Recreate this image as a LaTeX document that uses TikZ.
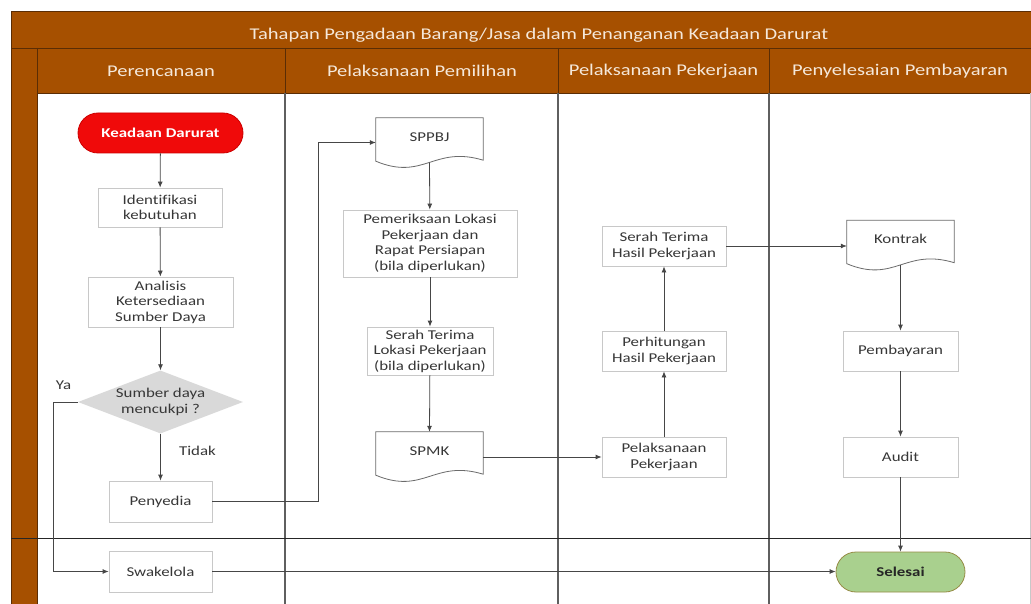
\documentclass[tikz,border=0pt]{standalone}
\usepackage{fontspec}
\setmainfont[FakeStretch=1.25,Ligatures=NoCommon]{Carlito}
\usetikzlibrary{arrows.meta,calc,shapes.geometric}
\definecolor{brownband}{RGB}{166,80,0}
\definecolor{darkbrown}{RGB}{90,45,5}
\definecolor{headtxt}{RGB}{245,232,218}
\definecolor{boxgray}{RGB}{200,200,200}
\definecolor{txt}{RGB}{55,55,55}
\definecolor{linegray}{RGB}{70,70,70}
\definecolor{lanegray}{RGB}{95,95,95}
\definecolor{diagray}{RGB}{217,217,217}
\definecolor{redterm}{RGB}{240,10,10}
\definecolor{greenterm}{RGB}{169,208,142}
\definecolor{greenborder}{RGB}{150,140,70}
\newcommand\bodyfnt{\fontsize{13.5}{15.5}\selectfont}
\newcommand\headfnt{\fontsize{16.4}{19}\selectfont}
\begin{document}
\begin{tikzpicture}[x=1pt,y=-1pt,
  proc/.style={draw=boxgray, line width=0.8pt, fill=white, align=center, text=txt, font=\bodyfnt, inner sep=0pt},
  docnode/.style={align=center, text=txt, font=\bodyfnt, inner sep=0pt, minimum width=107, minimum height=43},
  docline/.style={draw=linegray!80, line width=0.8pt, fill=white},
  term/.style={rounded corners=20pt, line width=0.8pt, align=center, font=\bodyfnt\bfseries, minimum height=40, inner sep=0pt},
  conn/.style={draw=linegray, line width=0.8pt, -{Latex[length=6pt,width=5pt]}},
  headtext/.style={text=headtxt, font=\headfnt, inner sep=0pt},
  lbl/.style={text=txt, font=\bodyfnt, inner sep=0pt}]
\useasboundingbox (0,0) rectangle (1031,604);
% frame
\fill[white] (0,0) rectangle (1031,604);
\fill[brownband] (11,11) rectangle (1031,93);
\fill[brownband] (11,93) rectangle (37,604);
\draw[darkbrown, line width=0.8pt] (11,604) -- (11,11) -- (1031,11);
\draw[darkbrown, line width=0.8pt] (11,48) -- (1031,48);
\draw[darkbrown, line width=0.8pt] (37,48) -- (37,604);
\draw[darkbrown, line width=0.8pt] (37,93) -- (1031,93);
\foreach \xx in {285,558,769} {
  \draw[darkbrown, line width=1pt] (\xx,48) -- (\xx,93);
  \draw[lanegray, line width=1.2pt] (\xx,93) -- (\xx,604);
}
\draw[boxgray, line width=0.8pt] (1030,93) -- (1030,604);
\draw[black!85, line width=0.7pt] (11,538) -- (1031,538);
% headings
\node[headtext] (title) at (539,35) {Tahapan Pengadaan Barang/Jasa dalam Penanganan Keadaan Darurat};
\node[headtext] (h1) at (161,71) {Perencanaan};
\node[headtext] (h2) at (422,71) {Pelaksanaan Pemilihan};
\node[headtext] (h3) at (663.5,71) {Pelaksanaan Pekerjaan};
\node[headtext] (h4) at (900,71) {Penyelesaian Pembayaran};
% lane 1
\node[term, fill=redterm, draw=red!80!black, text=white, minimum width=165] (kd) at (160.5,133) {Keadaan Darurat};
\node[proc, minimum width=124, minimum height=39] (ident) at (160,207.5) {Identifikasi\\kebutuhan};
\node[proc, minimum width=145, minimum height=50] (anal) at (160.5,302) {Analisis\\Ketersediaan\\Sumber Daya};
\node[diamond, fill=diagray, minimum width=165, minimum height=63, inner sep=0pt] (dec) at (160.5,402) {};
\node[lbl, align=center] (dectxt) at (160.5,402) {Sumber daya\\mencukpi ?};
\node[proc, minimum width=103, minimum height=41] (peny) at (160.5,501.5) {Penyedia};
\node[proc, minimum width=103, minimum height=41] (swak) at (160.5,571.5) {Swakelola};
\node[lbl] (ya) at (63.5,385) {Ya};
\node[lbl] (tidak) at (197.5,451) {Tidak};
\coordinate (jogA) at (318,0);
\coordinate (jogB) at (53,0);
% lane 2
\node[docnode] (sppbj) at (429.5,139.5) {};
\draw[docline] (sppbj.south west) -- (sppbj.north west) -- (sppbj.north east) -- ($(sppbj.south east)+(0,-1)$)
  .. controls ($(sppbj.south west)+(58,-16)$) and ($(sppbj.south west)+(48,20)$) .. (sppbj.south west) -- cycle;
\node[lbl] (sppbjtxt) at (429.5,137) {SPPBJ};
\node[proc, minimum width=174, minimum height=67] (periksa) at (430,243.5) {Pemeriksaan Lokasi\\Pekerjaan dan\\Rapat Persiapan\\(bila diperlukan)};
\node[proc, minimum width=126, minimum height=48] (stlok) at (430,351) {Serah Terima\\Lokasi Pekerjaan\\(bila diperlukan)};
\node[docnode] (spmk) at (429.5,453.5) {};
\draw[docline] (spmk.south west) -- (spmk.north west) -- (spmk.north east) -- ($(spmk.south east)+(0,-1)$)
  .. controls ($(spmk.south west)+(58,-16)$) and ($(spmk.south west)+(48,20)$) .. (spmk.south west) -- cycle;
\node[lbl] (spmktxt) at (429.5,451) {SPMK};
% lane 3
\node[proc, minimum width=124, minimum height=40] (pelak) at (664,457) {Pelaksanaan\\Pekerjaan};
\node[proc, minimum width=124, minimum height=40] (hitung) at (664,351) {Perhitungan\\Hasil Pekerjaan};
\node[proc, minimum width=124, minimum height=40] (sthasil) at (664,246) {Serah Terima\\Hasil Pekerjaan};
% lane 4
\node[docnode] (kontrak) at (900.5,242) {};
\draw[docline] (kontrak.south west) -- (kontrak.north west) -- (kontrak.north east) -- ($(kontrak.south east)+(0,-1)$)
  .. controls ($(kontrak.south west)+(58,-16)$) and ($(kontrak.south west)+(48,20)$) .. (kontrak.south west) -- cycle;
\node[lbl] (kontraktxt) at (900.5,239) {Kontrak};
\node[proc, minimum width=115, minimum height=40] (bayar) at (900.5,351) {Pembayaran};
\node[proc, minimum width=115, minimum height=40] (audit) at (900.5,457) {Audit};
\node[term, fill=greenterm, draw=greenborder, text=black!85, minimum width=129] (sel) at (900.5,572) {Selesai};
% connectors
\draw[conn] (kd) -- (ident);
\draw[conn] (ident) -- (anal);
\draw[conn] (anal) -- (dec.north);
\draw[conn] (dec.south) -- (peny);
\draw[conn] (dec.west) -- (dec.west -| jogB) -- (jogB |- swak.west) -- (swak.west);
\draw[conn] (peny.east) -- (peny.east -| jogA) -- ($(jogA |- sppbj.west)+(0,3)$) -- ($(sppbj.west)+(0,3)$);
\draw[conn] ($(sppbj.south)+(0,1.5)$) -- (periksa);
\draw[conn] (periksa) -- (stlok);
\draw[conn] (stlok) -- (spmk.north);
\draw[conn] (spmk.east |- pelak.west) -- (pelak.west);
\draw[conn] (pelak) -- (hitung);
\draw[conn] (hitung) -- (sthasil);
\draw[conn] (sthasil.east) -- (sthasil.east -| kontrak.west);
\draw[conn] ($(kontrak.south)+(0,1.5)$) -- (bayar);
\draw[conn] (bayar) -- (audit);
\draw[conn] (audit) -- (sel);
\draw[conn] (swak.east) -- (swak.east -| sel.west);
\end{tikzpicture}
\end{document}
